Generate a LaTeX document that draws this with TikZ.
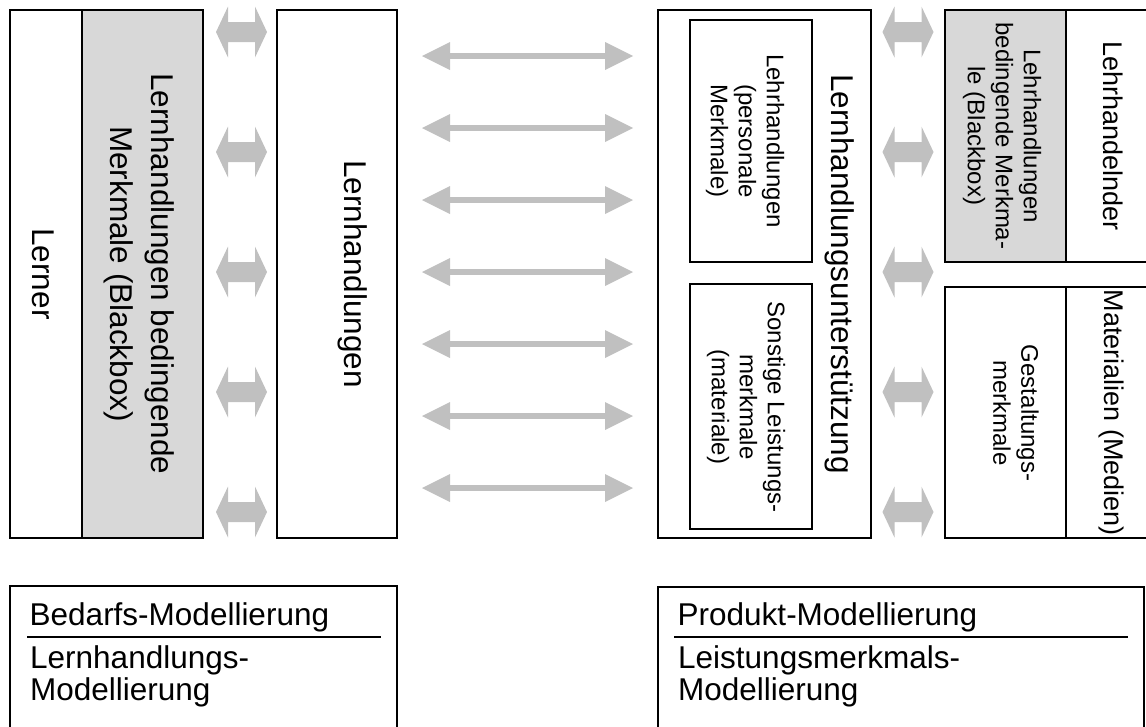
\documentclass[tikz,border=0pt]{standalone}
\usepackage{fontspec}
\setmainfont{Liberation Sans}
\usetikzlibrary{arrows.meta}
\definecolor{boxgray}{RGB}{216,216,216}
\definecolor{arrowgray}{RGB}{192,192,192}
\tikzset{
  frame/.style={draw=black, line width=1.8pt, inner sep=0pt, outer sep=0pt},
  graybox/.style={frame, fill=boxgray},
  vtext/.style={rotate=-90, align=center, inner sep=0pt},
  bigfont/.style={font=\fontsize{31.5}{41.5}\selectfont},
  midfont/.style={font=\fontsize{27}{32}\selectfont},
  smallfont/.style={font=\fontsize{24}{28}\selectfont},
  htext/.style={anchor=base west, inner sep=0pt, font=\fontsize{31.5}{32}\selectfont},
  longarrow/.style={draw=arrowgray, line width=6pt,
    {Triangle[length=28pt,width=28pt,line width=0pt]}-{Triangle[length=28pt,width=28pt,line width=0pt]}},
  fatarrow/.pic={\fill[arrowgray] (-25.5,0) -- (-13.5,-25.5) -- (-13.5,-10) -- (13.5,-10)
     -- (13.5,-25.5) -- (25.5,0) -- (13.5,25.5) -- (13.5,10) -- (-13.5,10) -- (-13.5,25.5) -- cycle;},
}
\begin{document}
\begin{tikzpicture}[x=1pt,y=-1pt]
\useasboundingbox (0,0) rectangle (1146,726);
\clip (0,0) rectangle (1146,726);

% left block: learner and its black box
\node[frame, minimum width=72pt, minimum height=528pt] (lerner) at (46,274) {};
\node[graybox, minimum width=121pt, minimum height=528pt] (lbm) at (142.5,274) {};
\node[vtext, bigfont] (t-lerner) at (43,274) {Lerner};
\node[vtext, bigfont] (t-lbm) at (139,274) {Lernhandlungen bedingende\\Merkmale (Blackbox)};

% learning actions
\node[frame, minimum width=120pt, minimum height=528pt] (lh) at (337,274) {};
\node[vtext, bigfont] (t-lh) at (353,274) {Lernhandlungen};

% support block
\node[frame, minimum width=213pt, minimum height=528pt] (lhu) at (764.5,274) {};
\node[vtext, bigfont] (t-lhu) at (840,274) {Lernhandlungsunterstützung};
\node[frame, minimum width=122pt, minimum height=242pt] (lhp) at (751,141) {};
\node[vtext, smallfont] (t-lhp) at (745,141) {Lehrhandlungen\\(personale\\Merkmale)};
\node[frame, minimum width=122pt, minimum height=245pt] (slm) at (751,406.5) {};
\node[vtext, smallfont] (t-slm) at (746,407) {Sonstige Leistungs-\\merkmale\\(materiale)};

% teacher and materials
\node[graybox, minimum width=121pt, minimum height=252pt] (lbm2) at (1005.5,136) {};
\node[frame, minimum width=94pt, minimum height=252pt] (lehr) at (1113,136) {};
\node[vtext, smallfont] (t-lbm2) at (1002,136) {Lehrhandlungen\\bedingende Merkma-\\le (Blackbox)};
\node[vtext, midfont] (t-lehr) at (1113,136) {Lehrhandelnder};
\node[frame, minimum width=121pt, minimum height=251pt] (gest) at (1005.5,412.5) {};
\node[frame, minimum width=94pt, minimum height=251pt] (mat) at (1113,412.5) {};
\node[vtext, smallfont] (t-gest) at (1016,413) {Gestaltungs-\\merkmale};
\node[vtext, midfont] (t-mat) at (1111,413) {Materialien (Medien)};

% fat double arrows between the columns
\foreach \y [count=\i] in {32,152,272,392,512} {
  \pic (fl\i) at (241.5,\y) {fatarrow};
  \pic (fr\i) at (908,\y) {fatarrow};
}

% long double arrows between actions and support
\foreach \y [count=\i] in {56,128,200,272,344,416,488} {
  \coordinate (la\i) at ([xshift=25pt]lh.east |- 0,\y);
  \coordinate (ra\i) at ([xshift=-25pt]lhu.west |- 0,\y);
  \draw[longarrow] (la\i) -- (ra\i);
}

% modelling boxes
\node[frame, minimum width=387pt, minimum height=160pt] (bed) at (203.5,666) {};
\node[htext] (t-bed1) at (29.5,625) {Bedarfs-Modellierung};
\node[htext] (t-bed2) at (30,668) {Lernhandlungs-};
\node[htext] (t-bed3) at (30,700) {Modellierung};
\coordinate (bsl) at (27,637);
\coordinate (bsr) at (381,637);
\draw[line width=1.2pt] (bsl) -- (bsr);

\node[frame, minimum width=486pt, minimum height=160pt] (prod) at (901,667) {};
\node[htext] (t-prod1) at (677.5,625) {Produkt-Modellierung};
\node[htext] (t-prod2) at (678,668) {Leistungsmerkmals-};
\node[htext] (t-prod3) at (678,700) {Modellierung};
\coordinate (psl) at (674,637);
\coordinate (psr) at (1128,637);
\draw[line width=1.2pt] (psl) -- (psr);
\end{tikzpicture}
\end{document}
